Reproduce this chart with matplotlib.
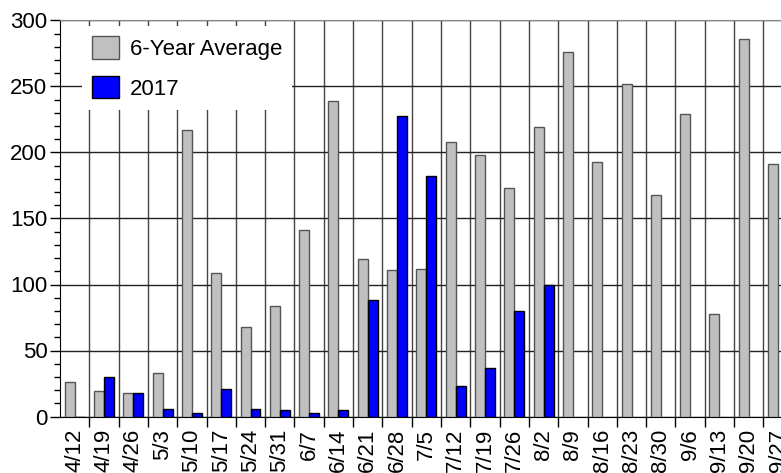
import numpy as np
import matplotlib
matplotlib.use('Agg')
import matplotlib.pyplot as plt
from matplotlib.ticker import MultipleLocator, FixedLocator

# weekly counts
weeks = ['4/12', '4/19', '4/26', '5/3', '5/10', '5/17', '5/24', '5/31', '6/7',
	'6/14', '6/21', '6/28', '7/5', '7/12', '7/19', '7/26', '8/2', '8/9',
	'8/16', '8/23', '8/30', '9/6', '9/13', '9/20', '9/27']
avg_6yr = [26, 19, 18, 33, 217, 109, 68, 84, 141, 239, 119, 111, 112, 208,
	198, 173, 219, 276, 193, 252, 168, 229, 78, 286, 191]
y2017 = [0, 30, 18, 6, 3, 21, 6, 5, 3, 5, 88, 228, 182, 23, 37, 80, 100]

plt.rcParams['font.family'] = ['Liberation Sans', 'DejaVu Sans']
FS = 16

fig = plt.figure(figsize=(7.81, 4.73), dpi=100)
ax = fig.add_axes([60/781, 1 - 416.5/473, 721/781, 396/473])

x = np.arange(len(weeks))
w = 0.34
ax.bar(x - w/2, avg_6yr, width=w, color='#c0c0c0', edgecolor='#555555',
	linewidth=1, label='6-Year Average', zorder=3)
x17 = np.arange(len(y2017))
ax.bar(x17 + w/2, y2017, width=w, color='#0000ff', edgecolor='black',
	linewidth=1, label='2017', zorder=3)

ax.set_ylim(0, 300)
ax.set_xlim(-0.5, 24.1)
ax.yaxis.set_major_locator(MultipleLocator(50))
ax.yaxis.set_minor_locator(MultipleLocator(10))
ax.set_xticks(x)
ax.set_xticklabels(weeks, rotation=90)
ax.xaxis.set_minor_locator(FixedLocator(np.arange(len(weeks)) + 0.5))

ax.tick_params(axis='x', which='major', length=0, pad=9, labelsize=FS)
ax.tick_params(axis='x', which='minor', length=7, width=1, direction='out')
ax.tick_params(axis='y', which='major', length=7, width=1, pad=2, labelsize=FS)
ax.tick_params(axis='y', which='minor', length=4, width=1)

ax.grid(True, axis='y', which='major', color='#222222', linewidth=1, zorder=1)
ax.grid(True, axis='x', which='minor', color='#444444', linewidth=1, zorder=1)
ax.set_axisbelow(True)

ax.spines['right'].set_visible(False)
ax.spines['top'].set_color('#888888')

leg = ax.legend(loc='upper left', bbox_to_anchor=(0.03, 0.985), borderaxespad=0,
	fontsize=FS, handlelength=1.22, handleheight=1.17, handletextpad=0.5,
	labelspacing=0.72, borderpad=0.45, frameon=True, fancybox=False)
leg.get_frame().set_facecolor('white')
leg.get_frame().set_edgecolor('none')
leg.get_frame().set_alpha(1)
leg.set_zorder(10)

fig.savefig('out.png', dpi=100)
